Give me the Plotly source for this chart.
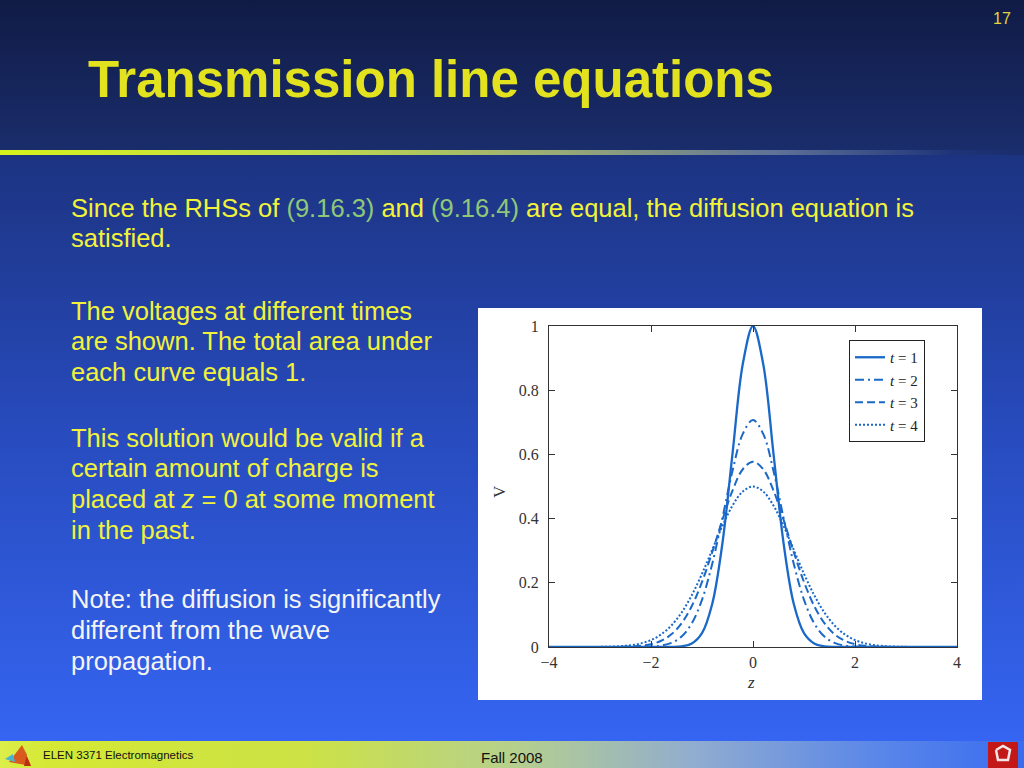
import base64
import plotly.graph_objects as go

# ---------------- data ----------------
z = [-4.0, -3.8, -3.6, -3.4, -3.2, -3.0, -2.8, -2.6, -2.4, -2.2, -2.0,
     -1.8, -1.6, -1.4, -1.2, -1.0, -0.8, -0.6, -0.4, -0.2, 0.0,
     0.2, 0.4, 0.6, 0.8, 1.0, 1.2, 1.4, 1.6, 1.8, 2.0,
     2.2, 2.4, 2.6, 2.8, 3.0, 3.2, 3.4, 3.6, 3.8, 4.0]

v_t1 = [0, 0, 0, 0, 0, 0, 0, 0, 0, 0, 0,
        0, 0.0003, 0.0021, 0.0109, 0.0432, 0.1339, 0.3227, 0.6049, 0.8819, 1.0,
        0.8819, 0.6049, 0.3227, 0.1339, 0.0432, 0.0109, 0.0021, 0.0003, 0, 0,
        0, 0, 0, 0, 0, 0, 0, 0, 0, 0]

v_t2 = [0, 0, 0, 0, 0, 0, 0, 0, 0.0001, 0.0004, 0.0013,
        0.0044, 0.0127, 0.0325, 0.0737, 0.1470, 0.2588, 0.4017, 0.5499, 0.6640, 0.7071,
        0.6640, 0.5499, 0.4017, 0.2588, 0.1470, 0.0737, 0.0325, 0.0127, 0.0044, 0.0013,
        0.0004, 0.0001, 0, 0, 0, 0, 0, 0, 0, 0]

v_t3 = [0, 0, 0, 0, 0, 0, 0.0002, 0.0005, 0.0014, 0.0036, 0.0088,
        0.0194, 0.0396, 0.0741, 0.1278, 0.2026, 0.2954, 0.3960, 0.4883, 0.5537, 0.5774,
        0.5537, 0.4883, 0.3960, 0.2954, 0.2026, 0.1278, 0.0741, 0.0396, 0.0194, 0.0088,
        0.0036, 0.0014, 0.0005, 0.0002, 0, 0, 0, 0, 0, 0]

v_t4 = [0, 0, 0, 0.0001, 0.0002, 0.0004, 0.0011, 0.0025, 0.0054, 0.0112, 0.0216,
        0.0393, 0.0670, 0.1073, 0.1614, 0.2280, 0.3024, 0.3769, 0.4410, 0.4845, 0.5,
        0.4845, 0.4410, 0.3769, 0.3024, 0.2280, 0.1614, 0.1073, 0.0670, 0.0393, 0.0216,
        0.0112, 0.0054, 0.0025, 0.0011, 0.0004, 0.0002, 0.0001, 0, 0, 0]

series_names = ["<i>t</i> = 1", "<i>t</i> = 2", "<i>t</i> = 3", "<i>t</i> = 4"]
series_values = [v_t1, v_t2, v_t3, v_t4]
x_ticks = [-4, -2, 0, 2, 4]
y_ticks = [0, 0.2, 0.4, 0.6, 0.8, 1]

title_text = "Transmission line equations"
page_number = "17"
footer_left = "ELEN 3371 Electromagnetics"
footer_mid = "Fall 2008"

# ---------------- styling ----------------
W, H = 1024, 768
def px(x):
    return x / W
def py(y):
    return 1 - y / H

LINE_COLOR = "#1a68c8"
dashes = ["solid", "9px,4px,2px,4px", "8px,4px", "2px,2px"]
widths = [2.3, 2.0, 2.0, 2.0]

SANS = "Liberation Sans, Arial, sans-serif"
SERIF = "Liberation Serif, Times New Roman, serif"
YELLOW = "#f2f23a"
GREEN = "#8fc878"

# background of the slide as an inline SVG picture
svg = f"""<svg xmlns='http://www.w3.org/2000/svg' width='{W}' height='{H}' viewBox='0 0 {W} {H}' preserveAspectRatio='none'>
<defs>
<linearGradient id='top' x1='0' y1='0' x2='0' y2='1'>
<stop offset='0' stop-color='#101b45'/><stop offset='1' stop-color='#1a2d6c'/></linearGradient>
<linearGradient id='body' x1='0' y1='0' x2='0' y2='1'>
<stop offset='0' stop-color='#1c3380'/><stop offset='0.45' stop-color='#274abb'/><stop offset='1' stop-color='#3565f2'/></linearGradient>
<linearGradient id='sep' x1='0' y1='0' x2='1' y2='0'>
<stop offset='0' stop-color='#d6f21c'/><stop offset='0.3' stop-color='#c2dc4c'/>
<stop offset='0.55' stop-color='#98aa78'/><stop offset='0.76' stop-color='#5e7198'/>
<stop offset='0.93' stop-color='#1e3478'/><stop offset='1' stop-color='#1a2d6c'/></linearGradient>
<linearGradient id='foot' x1='0' y1='0' x2='1' y2='0'>
<stop offset='0' stop-color='#dcee4a'/><stop offset='0.05' stop-color='#d4e834'/>
<stop offset='0.3' stop-color='#cce246'/><stop offset='0.5' stop-color='#b6d08c'/>
<stop offset='0.68' stop-color='#90acd0'/><stop offset='0.85' stop-color='#5c88e8'/>
<stop offset='1' stop-color='#3a6cf0'/></linearGradient>
</defs>
<rect x='0' y='0' width='{W}' height='152' fill='url(#top)'/>
<rect x='0' y='152' width='{W}' height='590' fill='url(#body)'/>
<rect x='0' y='150' width='{W}' height='5' fill='url(#sep)'/>
<rect x='0' y='741' width='{W}' height='27' fill='url(#foot)'/>
<polygon points='9,762 22,745 31,766' fill='#d85a1c'/>
<polygon points='22,745 27,755 24,766 31,766' fill='#b83010'/>
<polygon points='5,759 13,754 15,762' fill='#4ab4d0'/>
<rect x='988' y='742' width='30' height='26' fill='#c21818'/>
<polyline points='996,750 1003,746 1010,750 1008,760 998,760 996,750' fill='none' stroke='#f4e6e6' stroke-width='2.5'/>
</svg>"""
svg_uri = "data:image/svg+xml;base64," + base64.b64encode(svg.encode("utf-8")).decode("ascii")

fig = go.Figure()
for name, vals, dash, w in zip(series_names, series_values, dashes, widths):
    fig.add_trace(go.Scatter(
        x=z, y=vals, mode="lines", name=name,
        line=dict(color=LINE_COLOR, width=w, dash=dash, shape="spline", smoothing=1.0),
        hoverinfo="skip",
    ))

# plot area: x 549..957, y 326..647 (pixels)
fig.update_layout(
    width=W, height=H,
    margin=dict(l=0, r=0, t=0, b=0),
    paper_bgcolor="#1c3380",
    plot_bgcolor="white",
    showlegend=True,
    legend=dict(
        x=px(849), y=py(340), xanchor="left", yanchor="top",
        xref="paper", yref="paper",
        bgcolor="white", bordercolor="#222", borderwidth=1,
        font=dict(family=SERIF, size=15, color="#222"),
        tracegroupgap=0, itemwidth=30,
    ),
    xaxis=dict(
        domain=[px(549), px(957)], range=[-4, 4],
        tickmode="array", tickvals=x_ticks,
        ticks="inside", ticklen=6, tickcolor="#333", mirror="ticks",
        showline=True, linecolor="#333", linewidth=1,
        showgrid=False, zeroline=False, automargin=False,
        tickfont=dict(family=SERIF, size=16, color="#333"),
        ticklabelstandoff=1,
    ),
    yaxis=dict(
        domain=[py(647), py(326)], range=[0, 1],
        tickmode="array", tickvals=y_ticks,
        ticks="inside", ticklen=6, tickcolor="#333", mirror="ticks",
        showline=True, linecolor="#333", linewidth=1,
        showgrid=False, zeroline=False, automargin=False,
        tickfont=dict(family=SERIF, size=16, color="#333"),
        ticklabelstandoff=6,
    ),
    images=[dict(
        source=svg_uri, xref="paper", yref="paper",
        x=0, y=1, sizex=1, sizey=1, xanchor="left", yanchor="top",
        sizing="stretch", layer="below",
    )],
    shapes=[dict(
        type="rect", xref="paper", yref="paper",
        x0=px(478), x1=px(982), y0=py(700), y1=py(308),
        fillcolor="white", line=dict(width=0), layer="below",
    )],
)

annotations = []
def add_text(text, x, yc, size, color, family=SANS, xanchor="left", **kw):
    annotations.append(dict(
        text=text, x=px(x), y=py(yc), xref="paper", yref="paper",
        xanchor=xanchor, yanchor="middle", showarrow=False,
        font=dict(family=family, size=size, color=color), **kw))

# title and page number
add_text(f"<b>{title_text}</b>", 86, 79, 51, "#e2e21e")
add_text(page_number, 1013, 18, 16, "#e6d23a", xanchor="right")

# body text
BS = 25.5
g = lambda s: f"<span style='color:{GREEN}'>{s}</span>"
add_text(f"Since the RHSs of {g('(9.16.3)')} and {g('(9.16.4)')} are equal, the diffusion equation is",
         69, 208, BS, YELLOW)
add_text("satisfied.", 69, 238, BS, YELLOW)

add_text("The voltages at different times", 69, 311, BS, YELLOW)
add_text("are shown. The total area under", 69, 341, BS, YELLOW)
add_text("each curve equals 1.", 69, 372, BS, YELLOW)

add_text("This solution would be valid if a", 69, 438, BS, YELLOW)
add_text("certain amount of charge is", 69, 468, BS, YELLOW)
add_text("placed at <i>z</i> = 0 at some moment", 69, 499, BS, YELLOW)
add_text("in the past.", 69, 530, BS, YELLOW)

add_text("Note: the diffusion is significantly", 69, 599, BS, "#f4f4f4")
add_text("different from the wave", 69, 630, BS, "#f4f4f4")
add_text("propagation.", 69, 661, BS, "#f4f4f4")

# axis titles of the chart
add_text("V", 499, 492, 17, "#333", family=SERIF, xanchor="center", textangle=-90)
add_text("<i>z</i>", 751, 682, 17, "#333", family=SERIF, xanchor="center")

# footer
add_text(footer_left, 41, 755, 11.5, "#111")
add_text(footer_mid, 512, 757, 15, "#111", xanchor="center")

fig.update_layout(annotations=annotations)

fig.write_html(
    "out.html",
    config={"displayModeBar": False},
    post_script="document.body.style.margin='0';document.body.style.overflow='hidden';",
)
